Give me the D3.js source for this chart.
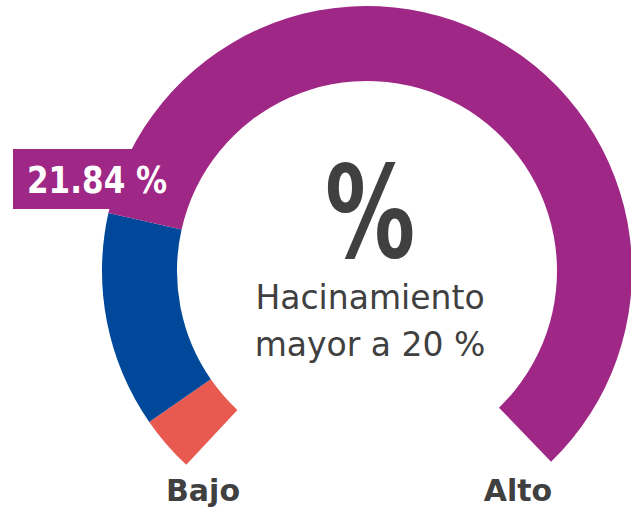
<!DOCTYPE html>
<html><head><meta charset="utf-8">
<script src="https://cdn.jsdelivr.net/npm/d3@7"></script>
<style>html,body{margin:0;padding:0;background:#fff;overflow:hidden}</style>
</head><body>
<svg id="chart" width="631" height="516"></svg>
<script>
// ---- data ----
const segmentStarts = [0, 4.5, 21.84];
const segmentEnds = [4.5, 21.84, 100];
const segmentNames = ["rango", "valor", "resto"];
const value = 21.84;
const valueLabel = "21.84 %";
const centerSymbol = "%";
const centerLines = ["Hacinamiento", "mayor a 20 %"];
const endLabels = ["Bajo", "Alto"];

// ---- style ----
const colors = ["#E8594F", "#00499A", "#9F2785"];
const textColor = "#404040";
const cx = 367, cy = 271, rOuter = 265, rInner = 190;
const a0 = -137 * Math.PI / 180, a1 = 136 * Math.PI / 180;

const svg = d3.select("#chart");
const angle = d3.scaleLinear().domain([0, 100]).range([a0, a1]);
const arc = d3.arc().innerRadius(rInner).outerRadius(rOuter);
const g = svg.append("g").attr("transform", `translate(${cx},${cy})`);

// value label box (drawn below arc so it merges)
svg.append("rect").attr("x", 13).attr("y", 149).attr("width", 170).attr("height", 60).attr("fill", colors[2]);

g.selectAll("path.seg").data(segmentNames).join("path")
  .attr("class", "seg")
  .attr("d", (d, i) => arc({startAngle: angle(segmentStarts[i]), endAngle: angle(segmentEnds[i])}))
  .attr("fill", (d, i) => colors[i]);

svg.append("text").attr("transform", "translate(27,193) scale(0.84,1)")
  .attr("font-family", "DejaVu Sans").attr("font-weight", "bold").attr("font-size", 37)
  .attr("fill", "#fff").text(valueLabel);

svg.append("text").attr("transform", "translate(370,257) scale(0.72,1.03)").attr("text-anchor", "middle")
  .attr("font-family", "DejaVu Sans").attr("font-weight", "bold").attr("font-size", 125)
  .attr("fill", textColor).text(centerSymbol);

svg.selectAll("text.cl").data(centerLines).join("text").attr("class", "cl")
  .attr("x", 370).attr("y", (d, i) => 309 + i * 47).attr("text-anchor", "middle")
  .attr("font-family", "DejaVu Sans").attr("font-size", 33)
  .attr("fill", textColor).text(d => d);

const endX = [203, 518];
svg.selectAll("text.el").data(endLabels).join("text").attr("class", "el")
  .attr("x", (d, i) => endX[i]).attr("y", 501).attr("text-anchor", "middle")
  .attr("font-family", "DejaVu Sans").attr("font-weight", "bold").attr("font-size", 30)
  .attr("fill", textColor).text(d => d);
</script>
</body></html>
